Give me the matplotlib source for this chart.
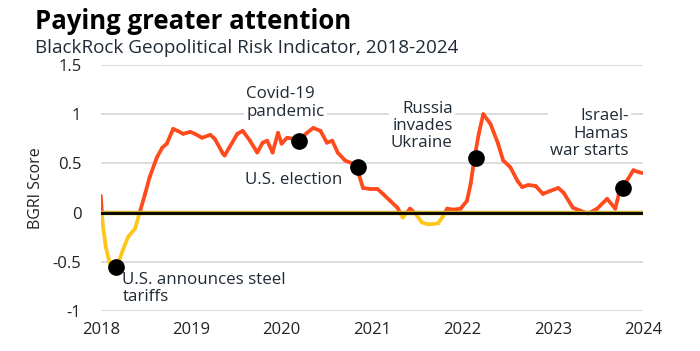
import numpy as np
import matplotlib
matplotlib.use("Agg")
import matplotlib.pyplot as plt
from matplotlib.collections import LineCollection

plt.rcParams['font.family'] = ['Open Sans', 'DejaVu Sans']

# ---------------- data ----------------
dates = [2018.00, 2018.02, 2018.055, 2018.10, 2018.13, 2018.18, 2018.24, 2018.30, 2018.38, 2018.43,
         2018.49, 2018.54, 2018.62, 2018.68, 2018.73, 2018.80, 2018.85, 2018.91, 2018.99, 2019.04,
         2019.12, 2019.21, 2019.26, 2019.35, 2019.37, 2019.51, 2019.57, 2019.65, 2019.73, 2019.79,
         2019.84, 2019.90, 2019.96, 2020.00, 2020.06, 2020.13, 2020.18, 2020.28, 2020.35, 2020.43,
         2020.50, 2020.56, 2020.62, 2020.70, 2020.78, 2020.83, 2020.90, 2020.98, 2021.06, 2021.12,
         2021.20, 2021.28, 2021.34, 2021.42, 2021.48, 2021.55, 2021.62, 2021.73, 2021.79, 2021.83,
         2021.90, 2021.98, 2022.05, 2022.09, 2022.13, 2022.18, 2022.23, 2022.31, 2022.39, 2022.45,
         2022.53, 2022.61, 2022.66, 2022.73, 2022.81, 2022.89, 2022.97, 2023.06, 2023.12, 2023.22,
         2023.30, 2023.39, 2023.49, 2023.60, 2023.69, 2023.73, 2023.76, 2023.83, 2023.89, 2023.95,
         2024.00]
bgri = [0.17, -0.11, -0.35, -0.52, -0.57, -0.55, -0.39, -0.25, -0.16, 0.00,
        0.19, 0.36, 0.56, 0.66, 0.70, 0.85, 0.83, 0.80, 0.82, 0.80,
        0.76, 0.79, 0.75, 0.60, 0.58, 0.80, 0.83, 0.73, 0.61, 0.71,
        0.73, 0.61, 0.81, 0.70, 0.76, 0.75, 0.73, 0.81, 0.86, 0.83,
        0.71, 0.73, 0.61, 0.53, 0.50, 0.46, 0.25, 0.24, 0.24, 0.19,
        0.12, 0.05, -0.05, 0.04, -0.01, -0.10, -0.12, -0.11, -0.03, 0.04,
        0.03, 0.04, 0.12, 0.29, 0.54, 0.80, 1.00, 0.90, 0.71, 0.53,
        0.46, 0.32, 0.26, 0.28, 0.27, 0.19, 0.22, 0.25, 0.20, 0.05,
        0.02, -0.01, 0.04, 0.14, 0.04, 0.19, 0.25, 0.34, 0.43, 0.41,
        0.40]

event_dates = [2018.17, 2020.19, 2020.84, 2022.15, 2023.77]
event_values = [-0.55, 0.73, 0.46, 0.55, 0.25]
event_labels = ["U.S. announces steel\ntariffs", "Covid-19\npandemic", "U.S. election",
                "Russia\ninvades\nUkraine", "Israel-\nHamas\nwar starts"]

year_ticks = [2018, 2019, 2020, 2021, 2022, 2023, 2024]
y_ticks = [-1, -0.5, 0, 0.5, 1, 1.5]
y_ticklabels = ["-1", "-0.5", "0", "0.5", "1", "1.5"]

RED = "#ff4a1c"
YELLOW = "#ffc61a"
TEXT = "#1f2a36"

# ---------------- figure ----------------
fig = plt.figure(figsize=(7.0, 3.51), dpi=100)
ax = fig.add_axes([0.144, 0.114, 0.775, 0.701])
ax.set_xlim(2018, 2024)
ax.set_ylim(-1, 1.5)

for s in ax.spines.values():
    s.set_visible(False)

ax.set_yticks(y_ticks)
ax.set_yticklabels(y_ticklabels)
ax.set_xticks(year_ticks)
ax.set_xticklabels([str(y) for y in year_ticks])
ax.tick_params(axis='both', length=0, labelsize=12, labelcolor="#222222")
ax.tick_params(axis='y', pad=14)
ax.tick_params(axis='x', pad=8)
ax.grid(axis='y', color="#d6d6d6", linewidth=1.2, zorder=0)
ax.set_axisbelow(True)

# split line at zero crossings so colour switches
xs = np.array(dates)
ys = np.array(bgri)
px, py = [xs[0]], [ys[0]]
for i in range(1, len(xs)):
    y0, y1 = ys[i - 1], ys[i]
    if y0 * y1 < 0:
        t = y0 / (y0 - y1)
        px.append(xs[i - 1] + t * (xs[i] - xs[i - 1]))
        py.append(0.0)
    px.append(xs[i]); py.append(ys[i])
px = np.array(px); py = np.array(py)
segs = np.stack([np.column_stack([px[:-1], py[:-1]]), np.column_stack([px[1:], py[1:]])], axis=1)
mids = (py[:-1] + py[1:]) / 2
cols = [RED if m >= 0 else YELLOW for m in mids]
lc = LineCollection(segs, colors=cols, linewidths=2.7, capstyle='round', joinstyle='round', zorder=3)
ax.add_collection(lc)

ax.axhline(0, color="#c9a928", linewidth=3.2, zorder=4)
ax.axhline(0, color="black", linewidth=2.0, zorder=5)

ax.plot(event_dates, event_values, 'o', color='black', markersize=11, zorder=6)

ax.set_ylabel("BGRI Score", fontsize=11.5, color="#222222", labelpad=6)

bbox = dict(facecolor='white', edgecolor='none', pad=1.5)
fs = 12.2
ls = 1.12
ax.text(2018.24, -0.60, event_labels[0], fontsize=fs, color=TEXT, ha='left', va='top',
        linespacing=ls, bbox=bbox, zorder=2)
ax.text(2019.61, 1.115, event_labels[1], fontsize=fs, color=TEXT, ha='left', va='center',
        linespacing=ls, bbox=bbox, zorder=2)
ax.text(2019.60, 0.335, event_labels[2], fontsize=fs, color=TEXT, ha='left', va='center',
        linespacing=ls, bbox=bbox, zorder=2)
ax.text(2021.89, 0.88, event_labels[3], fontsize=fs, color=TEXT, ha='right', va='center',
        linespacing=ls, bbox=bbox, zorder=2)
ax.text(2023.84, 0.80, event_labels[4], fontsize=fs, color=TEXT, ha='right', va='center',
        linespacing=ls, bbox=bbox, zorder=2)

fig.text(0.05, 0.94, "Paying greater attention", fontsize=18.5, fontweight='bold', color='black',
         ha='left', va='center')
fig.text(0.05, 0.862, "BlackRock Geopolitical Risk Indicator, 2018-2024", fontsize=13.6,
         color=TEXT, ha='left', va='center')

fig.savefig("out.png", dpi=100)
